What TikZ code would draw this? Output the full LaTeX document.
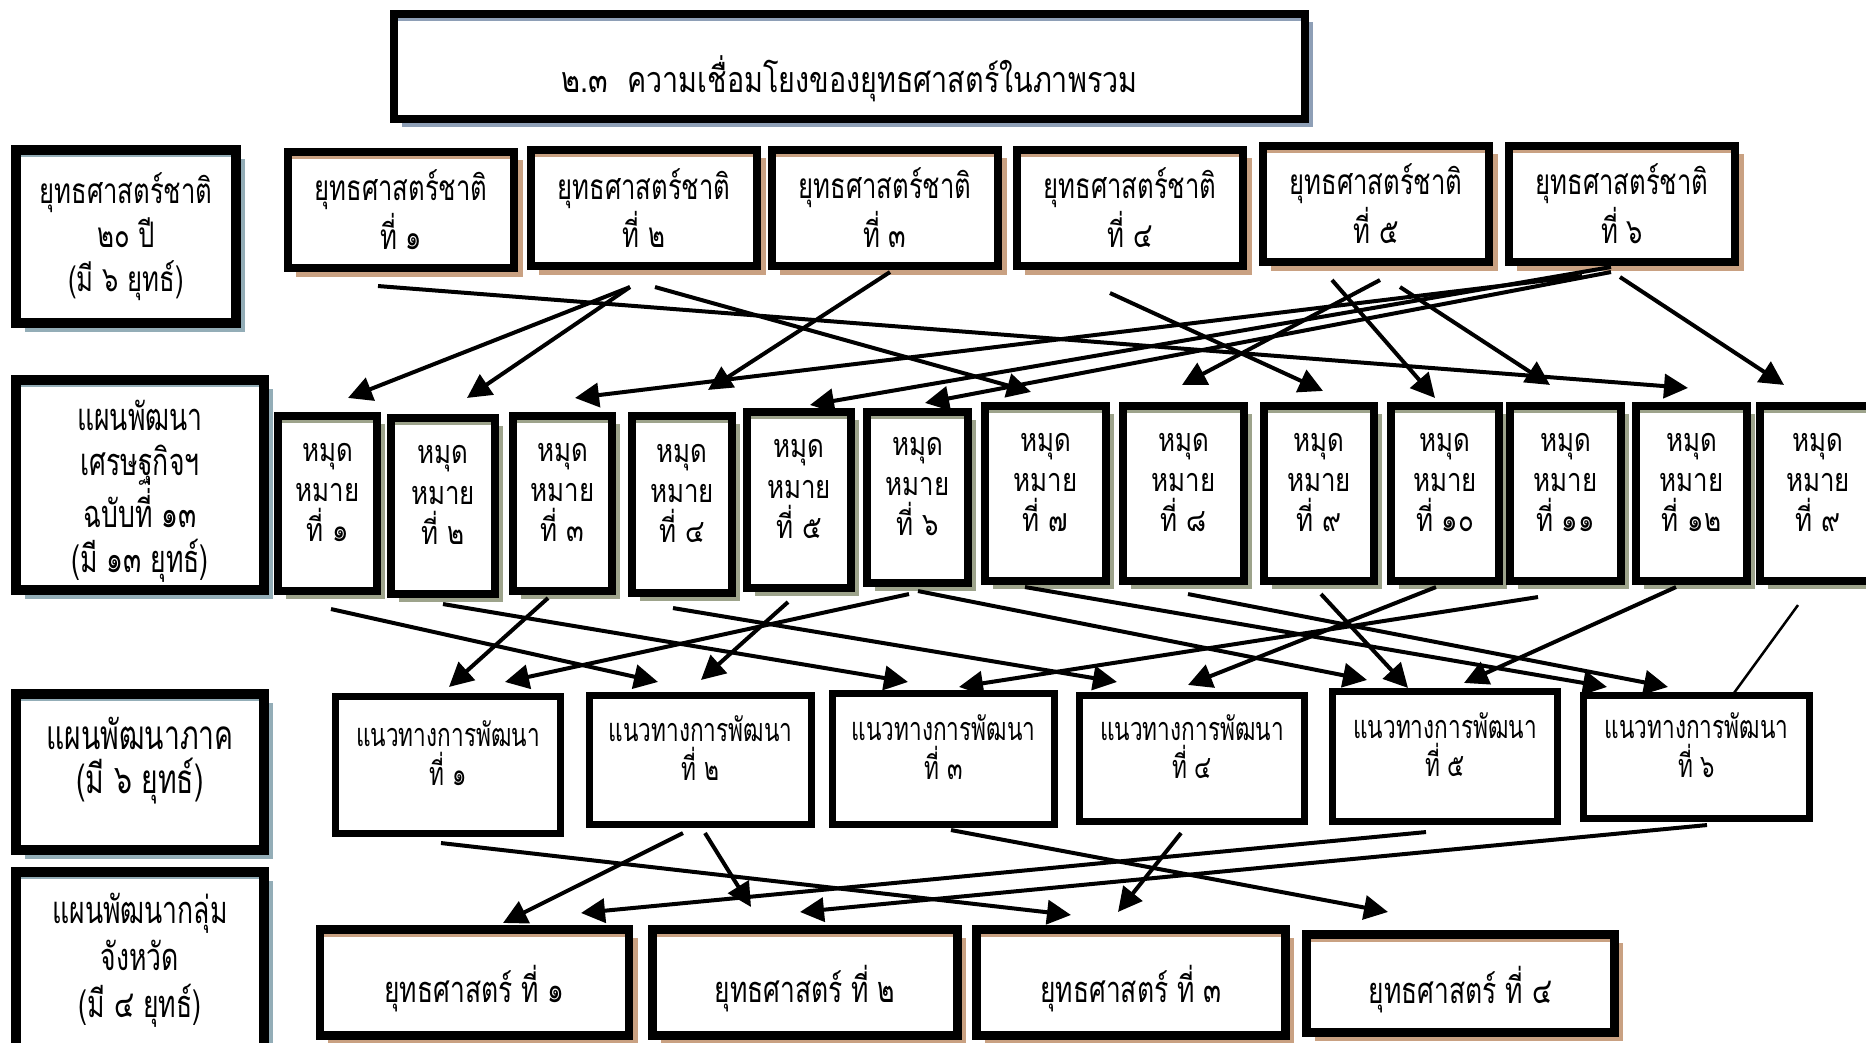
\documentclass[tikz,border=0pt]{standalone}
\usepackage{fontspec}
\setmainfont[Script=Thai,FakeStretch=0.8]{Loma}
\newfontfamily\thaimid[Script=Thai,FakeStretch=0.73]{Loma}
\newfontfamily\thainarrow[Script=Thai,FakeStretch=0.7]{Loma}
\usetikzlibrary{arrows.meta,shadows}

\definecolor{titleshade}{HTML}{8E9FB6}
\definecolor{labelshade}{HTML}{93ADB7}
\definecolor{natshade}{HTML}{C9A182}
\definecolor{goalshade}{HTML}{9DA38B}
\definecolor{stratshade}{HTML}{C9A182}

\newcommand{\titlefont}{\fontsize{10.2}{12}\selectfont}
\newcommand{\labelfont}{\thaimid\fontsize{10}{12.5}\selectfont}
\newcommand{\natfont}{\thaimid\fontsize{10}{11.7}\selectfont}
\newcommand{\goalfont}{\fontsize{9.2}{11.4}\selectfont}
\newcommand{\wayfont}{\thainarrow\fontsize{9.2}{11}\selectfont}
\newcommand{\stratfont}{\thaimid\fontsize{10.3}{12}\selectfont}

\tikzset{
  frame/.style={draw, fill=white, inner sep=0pt, outer sep=0pt, align=center},
  tinted/.style 2 args={drop shadow={shadow xshift=#2, shadow yshift=-#2, fill=#1, opacity=1},
    path picture={\fill[#1] (path picture bounding box.north west) rectangle ([yshift=-0.075cm]path picture bounding box.north east);}},
  titlebox/.style={frame, line width=0.08cm, tinted={titleshade}{0.08cm}},
  rowlabel/.style={frame, line width=0.1cm, tinted={labelshade}{0.09cm}},
  natbox/.style={frame, line width=0.08cm, tinted={natshade}{0.085cm}, minimum width=2.26cm, minimum height=1.16cm},
  goalbox/.style={frame, line width=0.075cm, tinted={goalshade}{0.08cm}},
  waybox/.style={frame, line width=0.07cm},
  stratbox/.style={frame, line width=0.085cm, tinted={stratshade}{0.085cm}},
  link/.style={line width=0.04cm, -{Triangle[length=0.24cm,width=0.24cm]}},
  thinlink/.style={line width=0.025cm},
}

\newcommand{\links}[1]{
  \foreach \a/\ax/\ay/\b/\bx/\by in {#1} {
    \draw[link] ([shift={(\ax,\ay)}]\a.south) -- ([shift={(\bx,\by)}]\b.north);
  }
}

\begin{document}
\begin{tikzpicture}[x=0.01cm,y=-0.01cm]
  \path[use as bounding box, fill=white] (0,0) rectangle (1866,1042);

  % title
  \node[titlebox, minimum width=9.11cm, minimum height=1.05cm,
    label={[font=\titlefont, yshift=-0.12cm]center:{๒.๓\ \ ความเชื่อมโยงของยุทธศาสตร์ในภาพรวม}}] (title) at (849.5,66.5) {};

  % row labels
  \node[rowlabel, minimum width=2.20cm, minimum height=1.73cm, font=\labelfont] (plan20) at (126,236.5)
    {ยุทธศาสตร์ชาติ\\๒๐ ปี\\(มี ๖ ยุทธ์)};
  \node[rowlabel, minimum width=2.48cm, minimum height=2.10cm,
    label={[font=\thainarrow\fontsize{10.8}{12.8}\selectfont, align=center, yshift=-0.06cm]center:{แผนพัฒนา\\เศรษฐกิจฯ\\ฉบับที่ ๑๓\\(มี ๑๓ ยุทธ์)}}] (plan13) at (140,485) {};
  \node[rowlabel, minimum width=2.48cm, minimum height=1.56cm,
    label={[font=\thainarrow\fontsize{11.5}{12.5}\selectfont, align=center, yshift=0.11cm]center:{แผนพัฒนาภาค\\(มี ๖ ยุทธ์)}}] (planregion) at (140,772) {};
  \node[rowlabel, minimum width=2.48cm, minimum height=1.76cm, font=\thainarrow\fontsize{10.8}{13.4}\selectfont] (plangroup) at (140,960)
    {แผนพัฒนากลุ่ม\\จังหวัด\\(มี ๔ ยุทธ์)};

  % national strategies
  \foreach \n/\lbl/\x/\y in {1/๑/401/210, 2/๒/644/208, 3/๓/885/208, 4/๔/1130/208, 5/๕/1376/204, 6/๖/1622/204}
    \node[natbox, font=\natfont] (nat\n) at (\x,\y) {ยุทธศาสตร์ชาติ\\ที่ \lbl};

  % milestones
  \foreach \n/\lbl/\x/\y/\w/\h in {1/๑/327.5/503.5/0.99/1.75, 2/๒/443/506/1.04/1.76, 3/๓/562.5/503.5/0.99/1.75,
      4/๔/682/504.5/1.00/1.77, 5/๕/799/500/1.04/1.76, 6/๖/917.5/497.5/1.01/1.71,
      7/๗/1045.5/493.5/1.21/1.75, 8/๘/1183.5/493.5/1.21/1.75, 9/๙/1319/493.5/1.10/1.75,
      10/๑๐/1445/493.5/1.08/1.75, 11/๑๑/1565.5/493.5/1.11/1.75, 12/๑๒/1691.5/493.5/1.11/1.75,
      13/๙/1818/493.5/1.16/1.75}
    \node[goalbox, minimum width=\w cm, minimum height=\h cm,
      label={[font=\goalfont, align=center, yshift=0.11cm]center:{หมุด\\หมาย\\ที่ \lbl}}] (goal\n) at (\x,\y) {};

  % regional guidelines
  \foreach \n/\lbl/\x/\y/\w/\h in {1/๑/448/765/2.25/1.37, 2/๒/700.5/760/2.22/1.29, 3/๓/943.5/759/2.22/1.31,
      4/๔/1192/758.5/2.25/1.26, 5/๕/1445/756.5/2.25/1.30, 6/๖/1696.5/757/2.26/1.23}
    \node[waybox, minimum width=\w cm, minimum height=\h cm,
      label={[font=\wayfont, align=center, yshift=0.12cm]center:{แนวทางการพัฒนา\\ที่ \lbl}}] (way\n) at (\x,\y) {};

  % provincial group strategies
  \foreach \n/\lbl/\x/\y/\w/\h in {1/๑/474.5/982.5/3.09/1.06, 2/๒/805/982.5/3.05/1.06,
      3/๓/1131/982.5/3.09/1.06, 4/๔/1460.5/983.5/3.08/0.98}
    \node[stratbox, minimum width=\w cm, minimum height=\h cm,
      label={[font=\stratfont, yshift=-0.06cm]center:{ยุทธศาสตร์ ที่ \lbl}}] (strat\n) at (\x,\y) {};

  % national -> milestones
  \links{nat1/-23/18/goal12/-3.5/-18, nat2/-14/21/goal1/20.5/-18, nat2/-14/21/goal2/24/-20,
    nat2/11/21/goal7/-14.5/-14, nat3/5/6/goal4/26/-26, nat4/-20/27/goal9/4/-15,
    nat5/4/18/goal8/-1.5/-21, nat5/-44/18/goal10/-10/-8, nat5/24/25/goal11/-15.5/-21,
    nat6/-40/14/goal3/12.5/-18, nat6/-11/5/goal5/11/-7, nat6/-11/10/goal6/7.5/-9,
    nat6/-2/15/goal13/-34/-21}

  % milestones -> regional guidelines
  \links{goal1/3.5/18/way2/-42.5/-13.5, goal2/0/10/way3/-35.5/-11.5, goal3/-14.5/7/way1/1/-9.5,
    goal4/-9/15/way4/-75/-13.5, goal5/-11/14/way2/0.5/-15.5, goal6/-8.5/11/way1/57/-14.5,
    goal6/0.5/8/way5/-78/-11.5, goal7/-20.5/6/way6/-89.5/-8.5, goal8/4.5/13/way6/-28.5/-8.5,
    goal9/2/13/way5/-37/-3.5, goal10/-9/6/way4/-4/-10.5, goal11/-27.5/16/way3/15.5/-6.5,
    goal12/-15.5/6/way5/19/-8.5}
  \draw[thinlink] ([shift={(-20,24)}]goal13.south) -- ([shift={(37.5,-2.5)}]way6.north);

  % regional guidelines -> provincial group strategies
  \links{way1/-7/9.5/strat3/-60/-14.5, way2/-17.5/8.5/strat1/28.5/-6.5, way2/4.5/8.5/strat2/-54/-22.5,
    way3/7.5/5.5/strat4/-72.5/-22.5, way4/-11/11.5/strat3/-13/-17.5, way5/-19/10.5/strat1/106.5/-16.5,
    way6/10.5/6.5/strat2/-5/-17.5}
\end{tikzpicture}
\end{document}
